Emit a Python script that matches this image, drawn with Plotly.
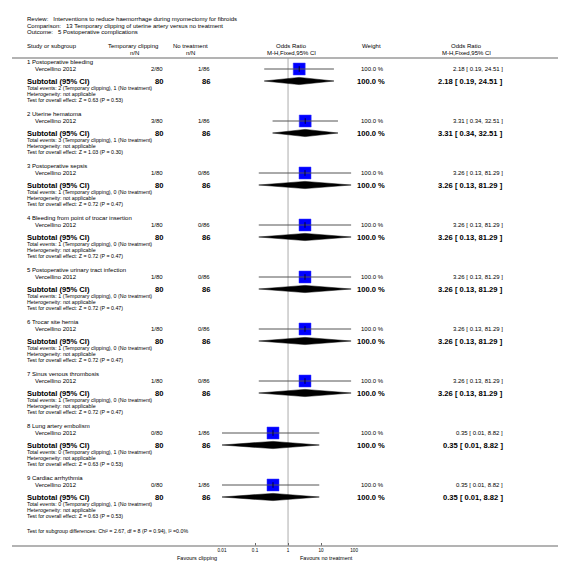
import plotly.graph_objects as go

# ---------------- data ----------------
review = "Review:   Interventions to reduce haemorrhage during myomectomy for fibroids"
comparison = "Comparison:   13 Temporary clipping of uterine artery versus no treatment"
outcome = "Outcome:   5 Postoperative complications"

groups = ["1 Postoperative bleeding", "2 Uterine hematoma", "3 Postoperative sepsis",
          "4 Bleeding from point of trocar insertion", "5 Postoperative urinary tract infection",
          "6 Trocar site hernia", "7 Sinus venous thrombosis", "8 Lung artery embolism",
          "9 Cardiac arrhythmia"]
study = "Vercellino 2012"
ev_clip = [2, 3, 1, 1, 1, 1, 1, 0, 0]
n_clip = [80, 80, 80, 80, 80, 80, 80, 80, 80]
ev_none = [1, 1, 0, 0, 0, 0, 0, 1, 1]
n_none = [86, 86, 86, 86, 86, 86, 86, 86, 86]
odds = [2.18, 3.31, 3.26, 3.26, 3.26, 3.26, 3.26, 0.35, 0.35]
ci_lo = [0.19, 0.34, 0.13, 0.13, 0.13, 0.13, 0.13, 0.01, 0.01]
ci_hi = [24.51, 32.51, 81.29, 81.29, 81.29, 81.29, 81.29, 8.82, 8.82]
weight = [100.0] * 9
z_vals = ["0.63", "1.03", "0.72", "0.72", "0.72", "0.72", "0.72", "0.63", "0.63"]
p_vals = ["0.53", "0.30", "0.47", "0.47", "0.47", "0.47", "0.47", "0.53", "0.53"]
subgroup_test = "Test for subgroup differences: Chi² = 2.67, df = 8 (P = 0.94), I² =0.0%"
tick_vals = [0.01, 0.1, 1, 10, 100]
tick_text = ["0.01", "0.1", "1", "10", "100"]
fav_left = "Favours clipping"
fav_right = "Favours no treatment"

# ---------------- layout constants (pixels) ----------------
W, H = 566, 561
FONT = "Liberation Sans, Arial, sans-serif"
X0_PLOT, X1_PLOT = 213, 347
G0, GSTEP = 54, 52
Y_TOP_LINE, Y_AXIS = 50, 538

fig = go.Figure()
ann = []


def txt(x, y, s, size=6, anchor="left", bold=False, color="#000"):
    ann.append(dict(x=x, y=y, xref="x", yref="y", text=("<b>%s</b>" % s) if bold else s,
                    showarrow=False, xanchor=anchor, yanchor="middle",
                    font=dict(family=FONT, size=size, color=color)))


# header
txt(13, 11, review)
txt(13, 17.5, comparison)
txt(13, 24, outcome)
txt(13, 38, "Study or subgroup")
txt(123, 38, "Temporary clipping", anchor="center")
txt(124, 45, "n/N", anchor="center")
txt(181, 38, "No treatment", anchor="center")
txt(181, 45, "n/N", anchor="center")
txt(283, 38, "Odds Ratio", anchor="center")
txt(283, 45, "M-H,Fixed,95% CI", anchor="center")
txt(365, 38, "Weight", anchor="center")
txt(461, 38, "Odds Ratio", anchor="center")
txt(461, 45, "M-H,Fixed,95% CI", anchor="center")

# invisible anchor trace for the pixel axes
fig.add_trace(go.Scatter(x=[0, W], y=[0, H], xaxis="x", yaxis="y", mode="markers",
                         marker=dict(opacity=0), hoverinfo="skip"))

# vertical no-effect line
fig.add_trace(go.Scatter(x=[1, 1], y=[Y_TOP_LINE, Y_AXIS], xaxis="x2", yaxis="y", mode="lines",
                         line=dict(color="#c8c8c8", width=1.5), hoverinfo="skip"))

for k, g in enumerate(groups):
    ty = G0 + GSTEP * k
    sy, suby = ty + 7, ty + 19
    txt(13, ty, g)
    txt(21, sy, study)
    txt(155, sy, "%d/%d" % (ev_clip[k], n_clip[k]), anchor="right")
    txt(203, sy, "%d/%d" % (ev_none[k], n_none[k]), anchor="right")
    txt(379, sy, "%.1f %%" % weight[k], anchor="right")
    txt(500, sy, "%.2f [ %.2f, %.2f ]" % (odds[k], ci_lo[k], ci_hi[k]), anchor="right")
    txt(13, suby, "Subtotal (95% CI)", size=7.6, bold=True)
    txt(155, suby, str(n_clip[k]), size=7.6, bold=True, anchor="right")
    txt(203, suby, str(n_none[k]), size=7.6, bold=True, anchor="right")
    txt(380, suby, "%.1f %%" % weight[k], size=7.6, bold=True, anchor="right")
    txt(500, suby, "%.2f [ %.2f, %.2f ]" % (odds[k], ci_lo[k], ci_hi[k]), size=7.6, bold=True,
        anchor="right")
    txt(13, ty + 26, "Total events: %d (Temporary clipping), %d (No treatment)" % (ev_clip[k], ev_none[k]),
        size=5.3)
    txt(13, ty + 32, "Heterogeneity: not applicable", size=5.3)
    txt(13, ty + 38, "Test for overall effect: Z = %s (P = %s)" % (z_vals[k], p_vals[k]), size=5.3)

    # study square
    fig.add_trace(go.Scatter(x=[odds[k]], y=[sy], xaxis="x2", yaxis="y", mode="markers",
                             marker=dict(symbol="square", size=12, color="#0000ff",
                                         line=dict(color="#3a3aff", width=0.5)),
                             hoverinfo="skip"))
    # CI line
    fig.add_trace(go.Scatter(x=[ci_lo[k], ci_hi[k]], y=[sy, sy], xaxis="x2", yaxis="y", mode="lines",
                             line=dict(color="#555", width=1), hoverinfo="skip"))
    fig.add_trace(go.Scatter(x=[odds[k]], y=[sy], xaxis="x2", yaxis="y", mode="markers",
                             marker=dict(symbol="line-ns", size=4, line=dict(color="#000", width=0.8)),
                             hoverinfo="skip"))
    # diamond
    fig.add_trace(go.Scatter(x=[ci_lo[k], odds[k], ci_hi[k], odds[k], ci_lo[k]],
                             y=[suby, suby - 3.6, suby, suby + 3.6, suby],
                             xaxis="x2", yaxis="y", mode="lines", fill="toself",
                             fillcolor="#000", line=dict(color="#000", width=0.5), hoverinfo="skip"))

txt(13, 523, subgroup_test, size=5.3)
txt(210, 550, fav_left, size=5.5, anchor="right")
txt(290, 550, fav_right, size=5.5, anchor="left")

shapes = [
    dict(type="line", xref="paper", yref="y", x0=0, x1=1, y0=Y_TOP_LINE, y1=Y_TOP_LINE,
         line=dict(color="#9a9a9a", width=1.5)),
    dict(type="line", xref="paper", yref="y", x0=0, x1=1, y0=Y_AXIS, y1=Y_AXIS,
         line=dict(color="#9a9a9a", width=1.5)),
]

fig.update_layout(
    width=W, height=H, margin=dict(l=0, r=0, t=0, b=0),
    paper_bgcolor="white", plot_bgcolor="rgba(0,0,0,0)", showlegend=False,
    annotations=ann, shapes=shapes,
    xaxis=dict(range=[0, W], visible=False, domain=[0, 1], fixedrange=True),
    yaxis=dict(range=[H, 0], visible=False, domain=[0, 1], fixedrange=True),
    xaxis2=dict(type="log", range=[-2, 2], domain=[X0_PLOT / W, X1_PLOT / W],
                anchor="free", position=(H - Y_AXIS) / H,
                showgrid=False, zeroline=False, showline=False,
                tickmode="array", tickvals=tick_vals, ticktext=tick_text,
                ticks="inside", ticklen=3, tickcolor="#666", tickwidth=1,
                tickfont=dict(family=FONT, size=4.6, color="#000"), fixedrange=True),
)

fig.write_html("out.html")
